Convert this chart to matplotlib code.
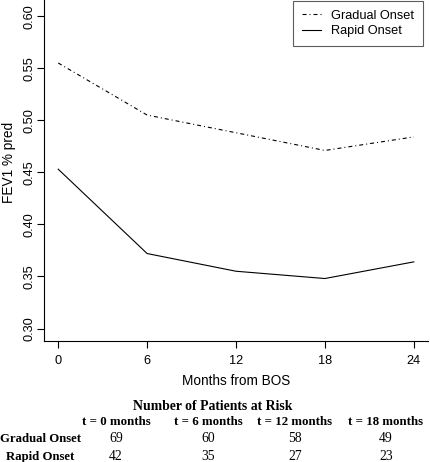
import matplotlib
matplotlib.use("Agg")
import matplotlib.pyplot as plt

months = [0, 6, 12, 18, 24]
gradual = [0.555, 0.505, 0.488, 0.471, 0.484]
rapid = [0.453, 0.372, 0.355, 0.348, 0.364]
yticks = [0.30, 0.35, 0.40, 0.45, 0.50, 0.55, 0.60]
risk_headers = ["t = 0 months", "t = 6 months", "t = 12 months", "t = 18 months"]
risk_groups = ["Gradual Onset", "Rapid Onset"]
risk_gradual = [69, 60, 58, 49]
risk_rapid = [42, 35, 27, 23]

W, H = 430, 462
fig = plt.figure(figsize=(W / 100, H / 100), dpi=100)
sans = ["Liberation Sans", "DejaVu Sans"]
serif = ["Liberation Serif", "DejaVu Serif"]

ax = fig.add_axes([44 / W, 1 - 341 / H, 384 / W, 341 / H])
ax.plot(months, gradual, color="black", lw=0.8, linestyle=(0, (3.6, 2.7, 0.9, 2.7)), label="Gradual Onset")
ax.plot(months, rapid, color="black", lw=0.8, linestyle="-", label="Rapid Onset")
ax.set_xlim(-0.96, 24.96)
ax.set_ylim(0.288, 0.6155)
ax.set_xticks(months)
ax.set_xticklabels([str(m) for m in months], fontfamily=sans, fontsize=9.2)
ax.set_yticks(yticks)
ax.set_yticklabels(["%.2f" % v for v in yticks], fontfamily=sans, fontsize=9.2, rotation=90, va="center")
ax.spines["top"].set_visible(False)
ax.spines["right"].set_visible(False)
for s in ("left", "bottom"):
    ax.spines[s].set_linewidth(0.8)
ax.tick_params(axis="both", length=5, width=0.8)
ax.tick_params(axis="x", pad=5)
ax.tick_params(axis="y", pad=1.0)
ax.set_xlabel("Months from BOS", fontfamily=sans, fontsize=9.8, labelpad=5)
ax.set_ylabel("FEV1 % pred", fontfamily=sans, fontsize=9.8)
ax.yaxis.set_label_coords((16 - 44) / 384, 1 - 162 / 341)

leg = ax.legend(loc="upper right", bbox_to_anchor=(423 / W, 1 - 1 / H), bbox_transform=fig.transFigure,
                borderaxespad=0, fancybox=False, frameon=True, prop={"family": sans, "size": 9.2},
                handlelength=1.5, handletextpad=0.75, labelspacing=0.25, borderpad=0.7)
leg.get_frame().set_edgecolor("#333333")
leg.get_frame().set_linewidth(0.8)

def fy(py):
    return 1 - py / H

fig.text(213 / W, fy(410), "Number of Patients at Risk", family=serif, weight="bold", fontsize=9.9,
         ha="center", va="baseline")
col_x = [116, 208, 295, 386]
for x, h in zip(col_x, risk_headers):
    fig.text(x / W, fy(425), h, family=serif, weight="bold", fontsize=9.3, ha="center", va="baseline")
for row_y, name, vals in zip([442, 460], risk_groups, [risk_gradual, risk_rapid]):
    fig.text(40 / W, fy(row_y), name, family=serif, weight="bold", fontsize=9.2, ha="center", va="baseline")
    for x, v in zip(col_x, vals):
        fig.text(x / W, fy(row_y), str(v), family=serif, fontsize=9.8, ha="center", va="baseline")

fig.savefig("out.png", dpi=100)
